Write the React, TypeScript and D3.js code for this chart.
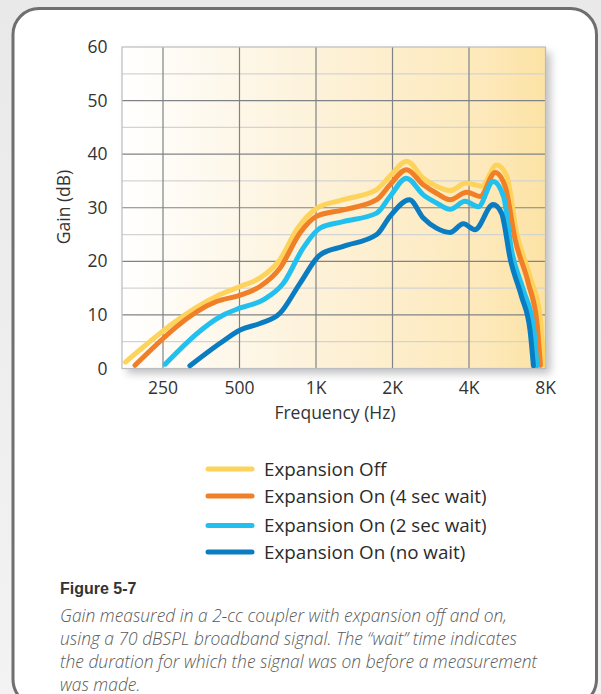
import React from "react";
import * as d3 from "d3";

const yTicks = [0, 10, 20, 30, 40, 50, 60];
const yMinor = [5, 15, 25, 35, 45, 55];
const xTicks = [250, 500, 1000, 2000, 4000, 8000];
const xTickLabels = ["250", "500", "1K", "2K", "4K", "8K"];

const seriesNames = [
  "Expansion Off",
  "Expansion On (4 sec wait)",
  "Expansion On (2 sec wait)",
  "Expansion On (no wait)",
];
const seriesColors = ["#fdd35c", "#f07f27", "#22c0ef", "#0a7dc2"];

const offFreq = [178, 406, 503, 602, 721, 839, 1006, 1280, 1733, 1955, 2274, 2644, 2980, 3370, 3900, 4490, 5140, 5630, 6160, 6950, 7620, 7870];
const offGain = [1.2, 13.5, 15.3, 16.9, 20.3, 25.9, 29.9, 31.5, 33.4, 35.9, 38.7, 35.5, 34.0, 33.2, 34.6, 34.0, 38.0, 35.9, 25.3, 17.2, 9.7, 0.8];

const on4Freq = [194, 406, 503, 602, 721, 865, 1006, 1280, 1733, 1955, 2270, 2644, 2980, 3370, 3920, 4420, 5070, 5550, 6080, 6850, 7410, 7640];
const on4Gain = [0.6, 12.5, 13.7, 15.3, 18.7, 25.3, 28.4, 29.6, 31.5, 34.3, 37.1, 34.3, 32.7, 31.5, 32.9, 32.1, 36.6, 34.0, 24.0, 15.9, 8.4, 0.6];

const on2Freq = [255, 432, 503, 620, 744, 891, 1037, 1280, 1733, 1955, 2270, 2644, 2980, 3370, 3860, 4350, 4980, 5470, 5880, 6540, 7170, 7400];
const on2Gain = [0.8, 10.0, 11.3, 12.8, 15.9, 22.5, 26.2, 27.4, 29.0, 32.1, 35.5, 32.4, 30.9, 29.7, 31.2, 30.2, 34.9, 32.1, 22.1, 14.7, 7.8, 0.5];

const noFreq = [319, 419, 503, 602, 721, 865, 1037, 1280, 1733, 1955, 2330, 2644, 2980, 3370, 3800, 4220, 4980, 5370, 5820, 6440, 6950, 7170];
const noGain = [0.5, 4.7, 7.2, 8.4, 10.3, 15.9, 21.2, 22.8, 25.0, 28.4, 31.5, 28.1, 26.2, 25.4, 27.0, 25.9, 30.6, 29.0, 20.3, 13.4, 7.2, 0.5];

const seriesFreq = [offFreq, on4Freq, on2Freq, noFreq];
const seriesGain = [offGain, on4Gain, on2Gain, noGain];

const captionTitle = "Figure 5-7";
const captionLines = [
  "Gain measured in a 2-cc coupler with expansion off and on,",
  "using a 70 dBSPL broadband signal. The \u201cwait\u201d time indicates",
  "the duration for which the signal was on before a measurement",
  "was made.",
];

const W = 601;
const H = 694;
const plot = { left: 122, right: 545.5, top: 47, bottom: 368.5 };
const FONT = "'Open Sans', 'DejaVu Sans', sans-serif";

export default function App() {
  const x = d3
    .scaleLog()
    .base(2)
    .domain([1000 * Math.pow(2, (plot.left - 316) / 76.5), 8000])
    .range([plot.left, plot.right]);
  const y = d3.scaleLinear().domain([0, 60]).range([plot.bottom, plot.top]);

  const line = d3
    .line<[number, number]>()
    .x((d) => x(d[0]))
    .y((d) => y(d[1]))
    .curve(d3.curveMonotoneX);

  const order = [0, 1, 2, 3];

  return (
    <svg
      width={W}
      height={H}
      style={{ position: "absolute", left: 0, top: 0, display: "block" }}
      fontFamily={FONT}
    >
      <defs>
        <linearGradient id="outerBg" x1="0" y1="0" x2="0" y2="1">
          <stop offset="0" stopColor="#e9e9e9" />
          <stop offset="1" stopColor="#f3f3f3" />
        </linearGradient>
        <linearGradient id="plotBg" x1="0" y1="0" x2="1" y2="0">
          <stop offset="0" stopColor="#ffffff" />
          <stop offset="0.45" stopColor="#fdf2da" />
          <stop offset="0.85" stopColor="#fde9bb" />
          <stop offset="1" stopColor="#fce2a4" />
        </linearGradient>
        <filter id="shadow" x="-5%" y="-5%" width="115%" height="115%">
          <feGaussianBlur in="SourceAlpha" stdDeviation="4" />
          <feOffset dx="5" dy="5" result="b" />
          <feComponentTransfer>
            <feFuncA type="linear" slope="0.25" />
          </feComponentTransfer>
          <feMerge>
            <feMergeNode />
            <feMergeNode in="SourceGraphic" />
          </feMerge>
        </filter>
        <clipPath id="plotClip">
          <rect
            x={plot.left}
            y={plot.top - 5}
            width={plot.right - plot.left}
            height={plot.bottom - plot.top + 5}
          />
        </clipPath>
      </defs>

      <rect x={0} y={0} width={W} height={H} fill="url(#outerBg)" />
      <rect
        x={13}
        y={8.5}
        width={583.5}
        height={697}
        rx={26}
        ry={26}
        fill="#ffffff"
        stroke="#6f6f6f"
        strokeWidth={3}
      />

      {/* plot background */}
      <rect
        x={plot.left}
        y={plot.top}
        width={plot.right - plot.left}
        height={plot.bottom - plot.top}
        fill="url(#plotBg)"
        filter="url(#shadow)"
      />

      {/* minor grid */}
      {yMinor.map((v) => (
        <line
          key={"mn" + v}
          x1={plot.left}
          x2={plot.right}
          y1={y(v)}
          y2={y(v)}
          stroke="#d3d3d3"
          strokeWidth={1.2}
        />
      ))}
      {/* major grid */}
      {yTicks
        .filter((v) => v > 0 && v < 60)
        .map((v) => (
          <line
            key={"mj" + v}
            x1={plot.left}
            x2={plot.right}
            y1={y(v)}
            y2={y(v)}
            stroke="#7f8387"
            strokeWidth={1.2}
          />
        ))}
      {xTicks
        .filter((f) => f < 8000)
        .map((f) => (
          <line
            key={"vx" + f}
            x1={x(f)}
            x2={x(f)}
            y1={plot.top}
            y2={plot.bottom}
            stroke="#7f8387"
            strokeWidth={1.2}
          />
        ))}
      <rect
        x={plot.left}
        y={plot.top}
        width={plot.right - plot.left}
        height={plot.bottom - plot.top}
        fill="none"
        stroke="#b9bcc0"
        strokeWidth={1.2}
      />

      {/* curves */}
      <g clipPath="url(#plotClip)">
        {order.map((i) => {
          const pts = seriesFreq[i].map((f, k) => [f, seriesGain[i][k]] as [number, number]);
          return (
            <path
              key={"s" + i}
              d={line(pts) || ""}
              fill="none"
              stroke={seriesColors[i]}
              strokeWidth={5}
              strokeLinecap="round"
              strokeLinejoin="round"
            />
          );
        })}
      </g>

      {/* y ticks */}
      {yTicks.map((v) => (
        <text
          key={"yt" + v}
          x={107.5}
          y={y(v)}
          dy="0.35em"
          textAnchor="end"
          fontSize={17.5}
          fill="#333"
        >
          {v}
        </text>
      ))}
      {/* x ticks */}
      {xTicks.map((f, i) => (
        <text
          key={"xt" + f}
          x={x(f)}
          y={394}
          textAnchor="middle"
          fontSize={17.5}
          fill="#333"
        >
          {xTickLabels[i]}
        </text>
      ))}
      <text x={335} y={419} textAnchor="middle" fontSize={17.5} fill="#333">
        Frequency (Hz)
      </text>
      <text
        transform={`translate(69.5,207) rotate(-90)`}
        textAnchor="middle"
        fontSize={17.5}
        fill="#333"
      >
        Gain (dB)
      </text>

      {/* legend */}
      {seriesNames.map((name, i) => {
        const ly = [469, 496, 525.5, 552][i];
        return (
          <g key={"lg" + i}>
            <line
              x1={208}
              x2={252}
              y1={ly}
              y2={ly}
              stroke={seriesColors[i]}
              strokeWidth={5}
              strokeLinecap="round"
            />
            <text x={264} y={ly} dy="0.36em" fontSize={18.8} fill="#2b2b2b">
              {name}
            </text>
          </g>
        );
      })}

      {/* caption */}
      <text
        x={60}
        y={594}
        fontFamily="'Liberation Sans', Arial, sans-serif"
        fontWeight="bold"
        fontSize={16}
        fill="#333"
      >
        {captionTitle}
      </text>
      {captionLines.map((t, i) => (
        <text
          key={"cp" + i}
          x={60}
          y={621.5 + i * 23}
          fontStyle="italic"
          fontWeight={300}
          fontSize={17.4}
          fill="#5a5a5a"
        >
          {t}
        </text>
      ))}
    </svg>
  );
}
